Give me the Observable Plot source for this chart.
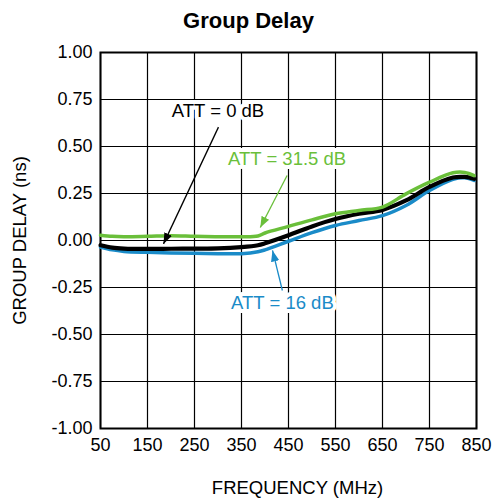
<!DOCTYPE html>
<html><head><meta charset="utf-8">
<script src="https://cdn.jsdelivr.net/npm/d3@7"></script>
<script src="https://cdn.jsdelivr.net/npm/@observablehq/plot@0.6"></script>
<style>body{margin:0;background:#fff}</style>
</head><body><div id="chart"></div>
<script>
const freq   = [50, 75, 100, 150, 200, 250, 300, 350, 385, 400, 450, 500, 550, 600, 650, 700, 750, 800, 825, 845];
const att315 = [0.028, 0.022, 0.020, 0.022, 0.025, 0.022, 0.020, 0.020, 0.024, 0.040, 0.075, 0.110, 0.142, 0.160, 0.178, 0.248, 0.310, 0.360, 0.362, 0.345];
const att0   = [-0.025, -0.038, -0.043, -0.045, -0.044, -0.043, -0.042, -0.035, -0.025, -0.015, 0.028, 0.075, 0.114, 0.142, 0.163, 0.213, 0.285, 0.335, 0.338, 0.328];
const att16  = [-0.035, -0.050, -0.058, -0.063, -0.066, -0.068, -0.070, -0.070, -0.060, -0.050, -0.004, 0.042, 0.080, 0.106, 0.132, 0.186, 0.266, 0.326, 0.334, 0.320];

const xTicks = [50, 150, 250, 350, 450, 550, 650, 750, 850];
const yTicks = [-1, -0.75, -0.5, -0.25, 0, 0.25, 0.5, 0.75, 1];

const seriesNames  = ["ATT = 16 dB", "ATT = 0 dB", "ATT = 31.5 dB"];
const seriesValues = [att16, att0, att315];
const seriesColors = ["#1a8bc8", "#000000", "#6abf3a"];

// annotation label centres and arrow endpoints (data units)
const labelX  = [437, 300, 447];
const labelY  = [-0.335, 0.688, 0.435];
const arrowX1 = [437, 301, 447];
const arrowY1 = [-0.266, 0.603, 0.346];
const arrowX2 = [416, 184, 390];
const arrowY2 = [-0.053, -0.018, 0.069];

function filledArrow(color) {
  const m = d3.create("svg:marker")
    .attr("viewBox", "-11 -5 11 10")
    .attr("markerUnits", "userSpaceOnUse")
    .attr("markerWidth", 11).attr("markerHeight", 10)
    .attr("orient", "auto").attr("refX", 0).attr("refY", 0);
  m.append("path").attr("d", "M-11,-4.2L0,0L-11,4.2Z").attr("fill", color).attr("stroke", "none");
  return m.node();
}

const rows = seriesNames.map((name, s) => freq.map((f, i) => ({f, v: seriesValues[s][i]})));
const widths = [3.5, 4.2, 3.5];

const marks = [
  Plot.gridX(xTicks, {stroke: "#000", strokeOpacity: 1, strokeWidth: 1.2}),
  Plot.gridY(yTicks, {stroke: "#000", strokeOpacity: 1, strokeWidth: 1.2}),
  Plot.frame({stroke: "#000", strokeWidth: 2}),
  Plot.axisX({ticks: xTicks, tickSize: 0, tickPadding: 10, tickFormat: d => String(d), label: null, fontSize: 18}),
  Plot.axisY({ticks: yTicks, tickSize: 0, tickPadding: 8, tickFormat: d => d.toFixed(2), label: null, fontSize: 18}),
];
rows.forEach((r, s) => {
  marks.push(Plot.line(r, {x: "f", y: "v", stroke: seriesColors[s], strokeWidth: widths[s], curve: "catmull-rom"}));
});
seriesNames.forEach((name, s) => {
  marks.push(Plot.link([0], {x1: () => arrowX1[s], y1: () => arrowY1[s], x2: () => arrowX2[s], y2: () => arrowY2[s],
    stroke: seriesColors[s], strokeWidth: 1.3, markerEnd: filledArrow}));
  marks.push(Plot.text([name], {x: () => labelX[s], y: () => labelY[s], text: d => d, fill: seriesColors[s],
    stroke: "white", strokeWidth: 8, fontSize: 18.5, lineAnchor: "middle", textAnchor: "middle"}));
});
marks.push(Plot.text(["Group Delay"], {frameAnchor: "top", dx: -40, dy: -32, lineAnchor: "middle", textAnchor: "middle", fontWeight: "bold", fontSize: 22}));
marks.push(Plot.text(["GROUP DELAY (ns)"], {frameAnchor: "left", dx: -80.5, rotate: -90, lineAnchor: "middle", textAnchor: "middle", fontSize: 18.5}));
marks.push(Plot.text(["FREQUENCY (MHz)"], {frameAnchor: "bottom", dx: 9, dy: 60, lineAnchor: "middle", textAnchor: "middle", fontSize: 18.5}));

const chart = Plot.plot({
  width: 499, height: 501,
  marginLeft: 100, marginRight: 23, marginTop: 52, marginBottom: 73,
  x: {domain: [50, 850]},
  y: {domain: [-1, 1]},
  style: {fontFamily: "'Liberation Sans', Arial, sans-serif", fontSize: "18px", color: "#000", background: "#fff", overflow: "visible"},
  marks
});
document.getElementById("chart").appendChild(chart);
</script>
</body></html>
